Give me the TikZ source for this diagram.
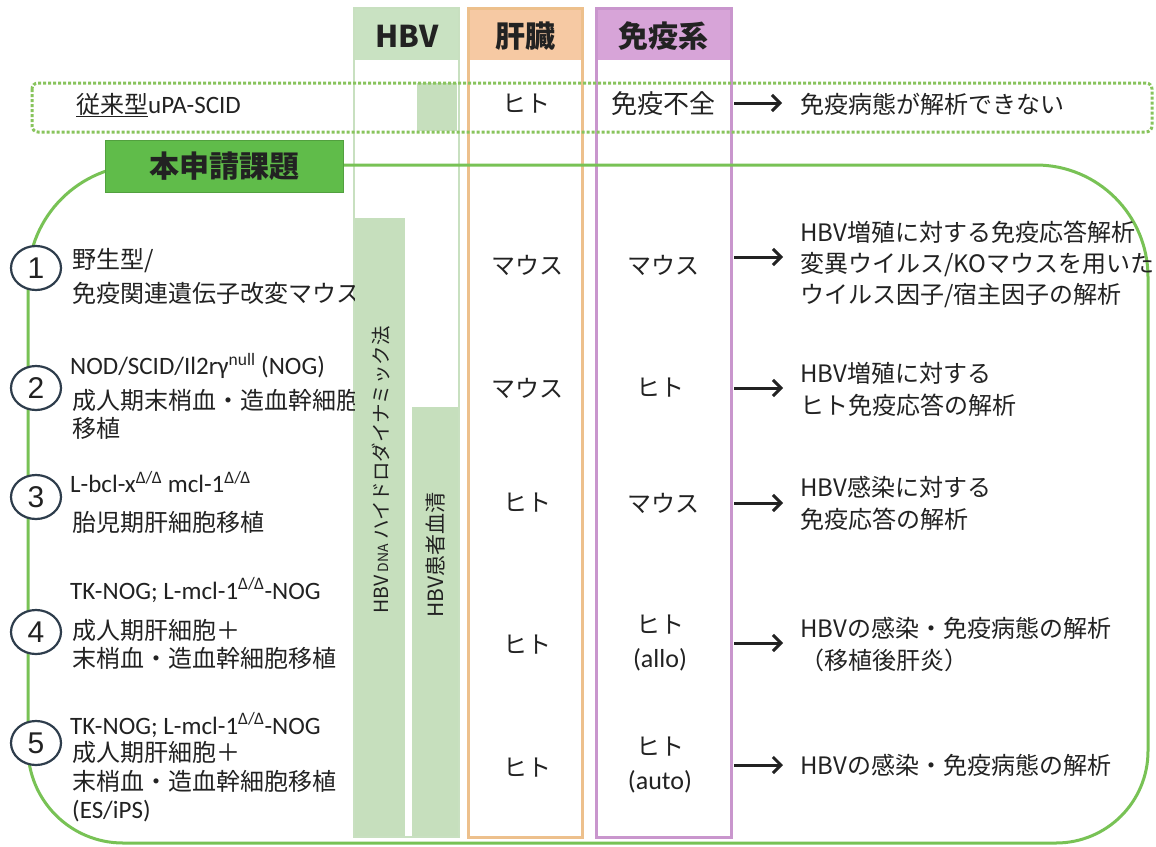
\documentclass[tikz,border=0pt]{standalone}
\usepackage{fontspec}
\setmainfont{Noto Sans CJK JP}
\newfontfamily\latf{Carlito}
\newfontfamily\numf{Liberation Sans}
\usetikzlibrary{shapes.geometric,arrows.meta}
\definecolor{ink}{HTML}{222222}
\definecolor{hbvh}{HTML}{C9E2C2}
\definecolor{hbvb}{HTML}{C8E0C0}
\definecolor{hbvbar}{HTML}{C6DFBD}
\definecolor{orh}{HTML}{F6C9A3}
\definecolor{orb}{HTML}{EDC08C}
\definecolor{puh}{HTML}{D7A4D8}
\definecolor{pub}{HTML}{C996CD}
\definecolor{gline}{HTML}{78C255}
\definecolor{glabel}{HTML}{60BC4A}
\definecolor{gdot}{HTML}{88C45C}
\definecolor{circ}{HTML}{2E3D4C}
\begin{document}
\begin{tikzpicture}[x=1pt,y=-1pt,
  txt/.style={inner sep=0pt, text=ink, font=\fontsize{24}{32}\selectfont, align=left, anchor=west},
  lat/.style={inner sep=0pt, text=ink, font=\latf\fontsize{25}{28}\selectfont, anchor=west},
  mid/.style={inner sep=0pt, text=ink, font=\fontsize{24}{34}\selectfont, align=center},
  hdr/.style={inner sep=0pt, text=ink, font=\bfseries\fontsize{30}{34}\selectfont},
  num/.style={ellipse, draw=circ, line width=2.2pt, fill=white, minimum width=50pt, minimum height=44pt, inner sep=0pt, text=ink, font=\numf\fontsize{30}{30}\selectfont},
  arr/.style={draw=ink, line width=3pt, -{Straight Barb[length=8pt,width=16pt]}},
  vtxt/.style={inner sep=0pt, text=ink, rotate=90, font=\fontsize{19.5}{20}\selectfont}]
\useasboundingbox (0,0) rectangle (1156,846);
\fill[white] (0,0) rectangle (1156,846);
% columns
\fill[hbvh] (354,8) rectangle (459,60);
\draw[hbvb, line width=2pt] (354,8) rectangle (459,837);
\fill[orh] (468,8) rectangle (582,60);
\draw[orb, line width=3pt] (468,8) rectangle (582,837);
\fill[puh] (596,8) rectangle (731,60);
\draw[pub, line width=3pt] (596,8) rectangle (731,837);
\node[hdr] (hHBV) at (407,36) {HBV};
\node[hdr] (hLiv) at (525,36) {肝臓};
\node[hdr] (hImm) at (663,36) {免疫系};
% conventional row
\fill[hbvbar] (417,83) rectangle (457,131);
\draw[gdot, line width=3pt, dotted, rounded corners=6pt] (32,83) rectangle (1152,132);
\node[inner sep=0pt, text=ink, anchor=west, font=\fontsize{24}{24}\selectfont] (old) at (76,105) {\underline{従来型}{\latf\fontsize{25}{25}\selectfont uPA-SCID}};
\node[mid] (m0) at (526,104) {ヒト};
\node[mid, font=\fontsize{26}{30}\selectfont] (i0) at (663,104) {免疫不全};
\node[txt] (r0) at (800,104) {免疫病態が解析できない};
\coordinate (a0) at (734,103);
\draw[arr] (a0) -- ([xshift=-18pt]a0 -| r0.west);
% big green frame
\draw[gline, line width=3pt] (343,165) -- (1036,165) arc[start angle=-90, end angle=0, radius=112]
  -- (1148,751) arc[start angle=0, end angle=90, radius=92]
  -- (123,843) arc[start angle=90, end angle=180, radius=95]
  -- (28,280) arc[start angle=180, end angle=270, radius=115] -- cycle;
\node[fill=glabel, draw=glabel!85!black, line width=0.6pt, minimum width=238pt, minimum height=52pt, inner sep=0pt, text=ink, font=\bfseries\fontsize{30}{30}\selectfont] (label) at (224,166) {本申請課題};
% left column texts
\node[txt, font=\fontsize{24}{34}\selectfont] (l1) at (72,276) {野生型/\\免疫関連遺伝子改変マウス};
\node[lat] (l2a) at (70,366) {NOD/SCID/Il2rγ\textsuperscript{null} (NOG)};
\node[txt, font=\fontsize{24}{28}\selectfont] (l2) at (72,414) {成人期末梢血・造血幹細胞\\移植};
\node[lat] (l3a) at (70,482) {L-bcl-x\textsuperscript{Δ/Δ} mcl-1\textsuperscript{Δ/Δ}};
\node[txt] (l3) at (72,522) {胎児期肝細胞移植};
\node[lat] (l4a) at (70,590) {TK-NOG; L-mcl-1\textsuperscript{Δ/Δ}-NOG};
\node[txt, font=\fontsize{24}{28}\selectfont] (l4) at (72,644) {成人期肝細胞＋\\末梢血・造血幹細胞移植};
\node[lat] (l5a) at (70,725) {TK-NOG; L-mcl-1\textsuperscript{Δ/Δ}-NOG};
\node[txt, font=\fontsize{24}{28.5}\selectfont] (l5) at (72,782) {成人期肝細胞＋\\末梢血・造血幹細胞移植\\{\latf\fontsize{25}{25}\selectfont (ES/iPS)}};
% HBV bars
\fill[hbvbar] (355,218) rectangle (405,836);
\fill[hbvbar] (412,407) rectangle (458,836);
\node[vtxt] (v1) at (381,470) {HBV\,{\fontsize{14}{14}\selectfont DNA} ハイドロダイナミック法};
\node[vtxt, font=\fontsize{21}{21}\selectfont] (v2) at (436,555) {HBV患者血清};
% circles
\node[num] (c1) at (36,268) {1};
\node[num] (c2) at (36,388) {2};
\node[num] (c3) at (36,497) {3};
\node[num] (c4) at (36,632) {4};
\node[num] (c5) at (36,743) {5};
% liver / immune cells
\node[mid] (m1) at (527,265) {マウス};
\node[mid] (i1) at (663,265) {マウス};
\node[mid] (m2) at (527,388) {マウス};
\node[mid] (i2) at (660,388) {ヒト};
\node[mid] (m3) at (527,503) {ヒト};
\node[mid] (i3) at (663,503) {マウス};
\node[mid] (m4) at (527,645) {ヒト};
\node[mid] (i4) at (660,643) {ヒト\\{\latf\fontsize{26}{26}\selectfont (allo)}};
\node[mid] (m5) at (527,768) {ヒト};
\node[mid] (i5) at (660,765) {ヒト\\{\latf\fontsize{26}{26}\selectfont (auto)}};
% right texts
\node[txt, font=\fontsize{24}{31}\selectfont] (r1) at (800,264) {HBV増殖に対する免疫応答解析\\変異ウイルス/KOマウスを用いた\\ウイルス因子/宿主因子の解析};
\node[txt] (r2) at (800,389) {HBV増殖に対する\\ヒト免疫応答の解析};
\node[txt] (r3) at (800,503) {HBV感染に対する\\免疫応答の解析};
\node[txt] (r4) at (800,644) {HBVの感染・免疫病態の解析\\（移植後肝炎）};
\node[txt] (r5) at (800,765) {HBVの感染・免疫病態の解析};
\coordinate (a1) at (734,257);
\coordinate (a2) at (734,388);
\coordinate (a3) at (734,503);
\coordinate (a4) at (734,643);
\coordinate (a5) at (734,765);
\draw[arr] (a1) -- ([xshift=-17pt]a1 -| r1.west);
\draw[arr] (a2) -- ([xshift=-17pt]a2 -| r2.west);
\draw[arr] (a3) -- ([xshift=-17pt]a3 -| r3.west);
\draw[arr] (a4) -- ([xshift=-17pt]a4 -| r4.west);
\draw[arr] (a5) -- ([xshift=-17pt]a5 -| r5.west);
\end{tikzpicture}
\end{document}
